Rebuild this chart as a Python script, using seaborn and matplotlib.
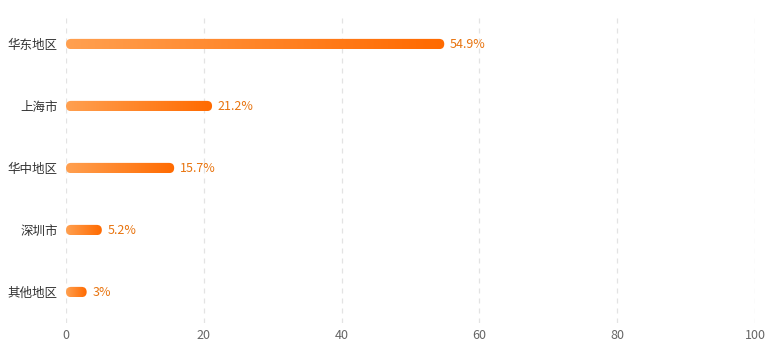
import numpy as np
import pandas as pd
import matplotlib
matplotlib.use("Agg")
import matplotlib.pyplot as plt
import seaborn as sns
from matplotlib.patches import FancyBboxPatch
from matplotlib.transforms import IdentityTransform
from matplotlib.colors import LinearSegmentedColormap

categories = ["华东地区", "上海市", "华中地区", "深圳市", "其他地区"]
values = [54.9, 21.2, 15.7, 5.2, 3.0]
value_labels = ["54.9%", "21.2%", "15.7%", "5.2%", "3%"]
x_ticks = [0, 20, 40, 60, 80, 100]

sns.set_theme(style="white")
plt.rcParams['font.family'] = ['Noto Sans CJK SC', 'DejaVu Sans']

df = pd.DataFrame({"region": categories, "value": values})

fig = plt.figure(figsize=(7.78, 3.62), dpi=100)
ax = fig.add_axes([66 / 778, 1 - 323 / 362, (755 - 66) / 778, (323 - 13) / 362])

sns.barplot(data=df, x="value", y="region", orient="h", ax=ax,
            width=0.165, color="#FF7A1A", saturation=1)

ax.set_xlim(0, 100)
ax.set_ylim(len(categories) - 0.5, -0.5)
ax.set_xticks(x_ticks)
ax.set_xlabel("")
ax.set_ylabel("")
for s in ax.spines.values():
    s.set_visible(False)
ax.grid(axis="x", color="#e3e3e3", linestyle=(0, (4, 4)), linewidth=0.9)
ax.grid(axis="y", visible=False)
ax.set_axisbelow(True)
ax.tick_params(axis="x", length=0, pad=4, labelsize=9, labelcolor="#666666")
ax.tick_params(axis="y", length=0, pad=6, labelsize=9, labelcolor="#333333")

cmap = LinearSegmentedColormap.from_list("og", ["#FFA050", "#FF6A00"])
grad = np.linspace(0, 1, 256).reshape(1, -1)

fig.canvas.draw()
for p, lab in zip(list(ax.patches), value_labels):
    x0, y0, w, h = p.get_x(), p.get_y(), p.get_width(), p.get_height()
    p.set_visible(False)
    (dx0, dy0), (dx1, dy1) = ax.transData.transform([(x0, y0), (x0 + w, y0 + h)])
    left, right = min(dx0, dx1), max(dx0, dx1)
    bot, top = min(dy0, dy1), max(dy0, dy1)
    hh = top - bot
    clip = FancyBboxPatch((left, bot), right - left, hh,
                          boxstyle=f"round,pad=0,rounding_size={hh / 2}",
                          transform=IdentityTransform(), facecolor="none",
                          edgecolor="none")
    ax.add_patch(clip)
    im = ax.imshow(grad, cmap=cmap, aspect="auto",
                   extent=[x0, x0 + w, y0 + h, y0], interpolation="bilinear",
                   zorder=3)
    im.set_clip_path(clip)
    ax.annotate(lab, xy=(x0 + w, y0 + h / 2), xytext=(4, 0),
                textcoords="offset points", ha="left", va="center",
                fontsize=9, color="#E8740F")

ax.set_xlim(0, 100)
ax.set_ylim(len(categories) - 0.5, -0.5)
fig.savefig("out.png", dpi=100)
